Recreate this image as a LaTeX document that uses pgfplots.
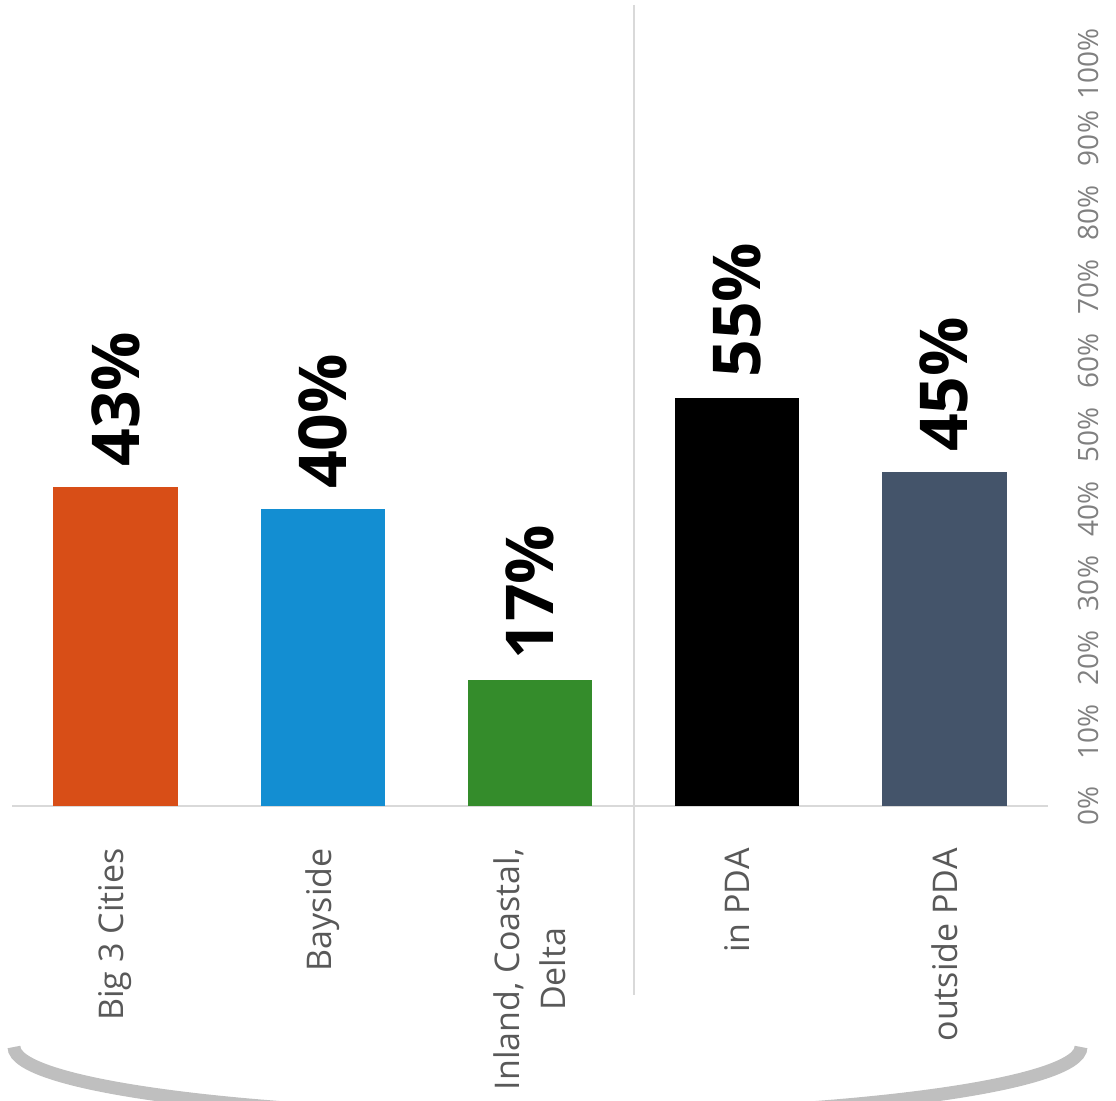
\documentclass[border=0pt]{standalone}
\usepackage{pgfplots}
\pgfplotsset{compat=1.18}
\usepackage{fontspec}
\setmainfont{Open Sans}
\definecolor{cOrange}{RGB}{216,78,23}
\definecolor{cBlue}{RGB}{19,142,210}
\definecolor{cGreen}{RGB}{52,140,43}
\definecolor{cBlack}{RGB}{0,0,0}
\definecolor{cSlate}{RGB}{68,84,106}
\definecolor{gridgray}{RGB}{217,217,217}
\definecolor{tickgray}{RGB}{128,128,128}
\definecolor{labgray}{RGB}{89,89,89}
\definecolor{brgray}{RGB}{191,191,191}
\begin{document}
\begin{tikzpicture}
\useasboundingbox (0,0) rectangle (558pt,550.5pt);
\begin{scope}
\clip (0,0) rectangle (558pt,550.5pt);
\draw[brgray, line width=6.5pt] (7pt,27pt) arc[start angle=180, end angle=360, x radius=266.75pt, y radius=35pt];
\end{scope}
\begin{axis}[
  at={(6pt,147.5pt)}, anchor=south west,
  scale only axis, width=518pt, height=400.5pt,
  xmin=-0.5, xmax=4.5, ymin=0, ymax=108,
  /pgf/number format/assume math mode=true,
  axis x line*=bottom, axis y line*=right,
  x axis line style={gridgray, line width=1.2pt, -},
  y axis line style={draw=none},
  major tick length=0pt,
  xtick={0,1,2,3,4},
  xticklabels={Big 3 Cities, Bayside, {Inland, Coastal,\\Delta}, in PDA, outside PDA},
  xticklabel style={rotate=90, anchor=east, align=center, inner sep=0pt, text=labgray, font=\fontsize{17}{23}\selectfont},
  xticklabel shift=21pt,
  ytick={0,10,...,100},
  yticklabels={0\%,10\%,20\%,30\%,40\%,50\%,60\%,70\%,80\%,90\%,100\%},
  yticklabel style={rotate=90, anchor=north, inner sep=0pt, text=tickgray, font=\fontsize{14}{16}\selectfont},
  yticklabel shift=15pt,
  ybar, bar shift=0pt, bar width=0.6,
  clip=false,
  nodes near coords={\pgfmathprintnumber[assume math mode=true]{\pgfplotspointmeta}\%},
  every node near coord/.append style={rotate=90, anchor=west, inner xsep=10pt, inner ysep=0pt, text=black, font=\fontsize{33}{36}\selectfont\bfseries},
]
\addplot[fill=cOrange, draw=none] coordinates {(0,43)};
\addplot[fill=cBlue, draw=none] coordinates {(1,40)};
\addplot[fill=cGreen, draw=none] coordinates {(2,17)};
\addplot[fill=cBlack, draw=none] coordinates {(3,55)};
\addplot[fill=cSlate, draw=none] coordinates {(4,45)};
\draw[gridgray, line width=1pt] (axis cs:2.5,108) -- (axis cs:2.5,-25.5);
\end{axis}
\end{tikzpicture}
\end{document}
